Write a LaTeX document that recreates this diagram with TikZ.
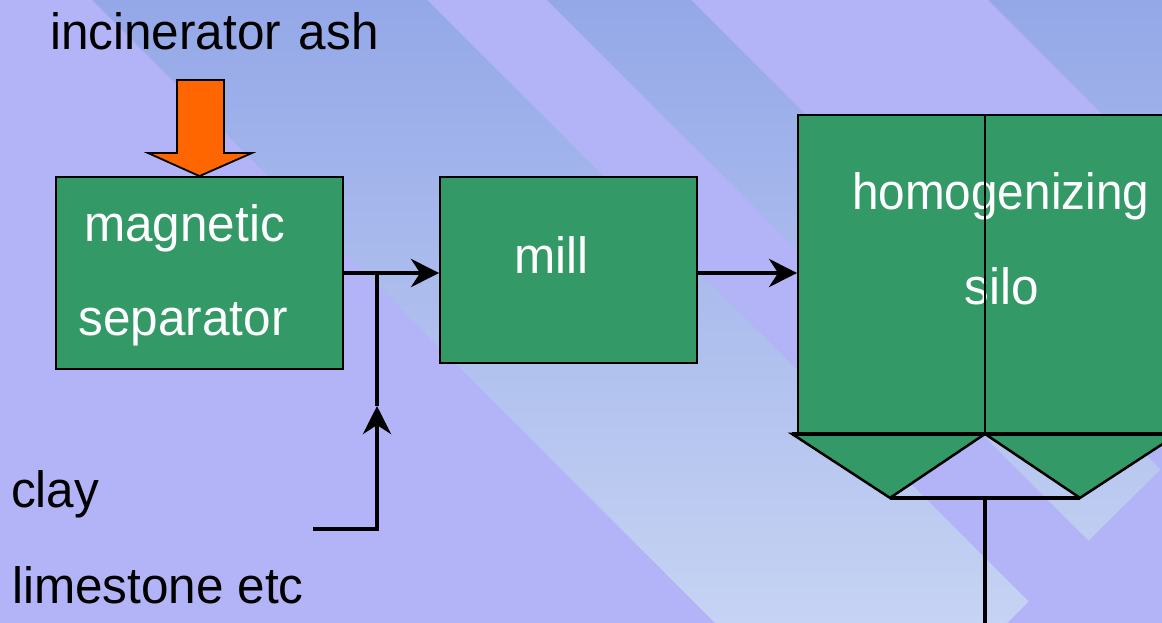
\documentclass[tikz,border=0pt]{standalone}
\usepackage{fontspec}
\setmainfont{Liberation Sans}[FakeStretch=0.97]
\newfontfamily\narrowsans{Liberation Sans}[FakeStretch=0.935]
\usetikzlibrary{arrows.meta}
\definecolor{lav}{RGB}{179,179,247}
\definecolor{bandtop}{RGB}{148,168,232}
\definecolor{bandbot}{RGB}{198,211,243}
\definecolor{boxgreen}{RGB}{51,153,102}
\definecolor{ashorange}{RGB}{255,102,0}
\begin{document}
\begin{tikzpicture}[x=1pt,y=-1pt,
  box/.style={draw=black, line width=1.8pt, fill=boxgreen, inner sep=0pt},
  lbl/.style={anchor=base west, inner sep=0pt, font=\fontsize{51}{60}\selectfont},
  wlbl/.style={lbl, text=white},
  conn/.style={line width=4.5pt},
  arr/.style={conn, -{Stealth[length=28pt,width=28pt,inset=9pt]}},
]
\useasboundingbox (0,0) rectangle (1162,623);
\clip (0,0) rectangle (1162,623);
% background
\fill[lav] (0,0) rectangle (1162,623);
\begin{scope}
  \clip (92,0) -- (427,0) -- (1028.5,601.5) -- (861,769) -- cycle
        (547,0) -- (691,0) -- (1160.5,469.5) -- (1088.5,540.5) -- cycle
        (988,0) -- (1250,0) -- (1250,262) -- cycle;
  \shade[top color=bandtop, bottom color=bandbot] (0,0) rectangle (1162,623);
\end{scope}
% boxes
\node[box, minimum width=287pt, minimum height=192pt] (ms) at (199.5,273) {};
\node[box, minimum width=257pt, minimum height=186pt] (mill) at (568.5,270) {};
\node[box, minimum width=374pt, minimum height=318pt] (silo) at (985,274) {};
% hopper
\coordinate (hm) at (silo.south);
\coordinate (hl) at ([xshift=-193pt]hm);
\coordinate (hr) at ([xshift=193pt]hm);
\coordinate (bl) at ([xshift=-95pt,yshift=-64pt]hm);
\coordinate (br) at ([xshift=95pt,yshift=-64pt]hm);
\coordinate (bm) at ([yshift=-64pt]hm);
\filldraw[fill=boxgreen, draw=black, line width=2.5pt] (hl) -- (hm) -- (bl) -- cycle;
\filldraw[fill=boxgreen, draw=black, line width=2.5pt] (hm) -- (hr) -- (br) -- cycle;
\draw[line width=4pt] (hl) -- (hr);
\draw[line width=4.5pt] (bl) -- (br);
\coordinate (out) at (985,640);
\draw[conn] (bm) -- (out);
% orange feed arrow
\filldraw[fill=ashorange, draw=black, line width=1.8pt]
  (177,80) -- (224,80) -- (224,153) -- (252,153) -- (ms.north) -- (148,153) -- (177,153) -- cycle;
% labels
\node[lbl] (ash) at (50,50) {incinerator\hspace{4pt} ash};
\node[wlbl] (t1) at (84,241) {magnetic};
\node[wlbl] (t2) at (78.5,335) {separator};
\node[wlbl] (tm) at (514,273) {mill};
\node[wlbl, font=\narrowsans\fontsize{51}{60}\selectfont] (th) at (852,209) {homogenizing};
\node[wlbl] (ts) at (964.5,304) {silo};
\node[lbl] (clay) at (11,507) {clay};
\node[lbl] (lime) at (12,603) {limestone etc};
% silo divider
\draw[line width=1.8pt] (silo.north) -- (silo.south);
% connectors
\draw[arr] (ms.east) -- (ms.east -| mill.west);
\draw[arr] (mill.east |- ms.east) -- (silo.west |- ms.east);
\coordinate (clayin) at (313,529);
\coordinate (mid) at (377,406);
\coordinate (jn) at (377,273);
\draw[arr] (clayin) -| (mid);
\draw[conn] (mid) -- (jn);
\end{tikzpicture}
\end{document}
